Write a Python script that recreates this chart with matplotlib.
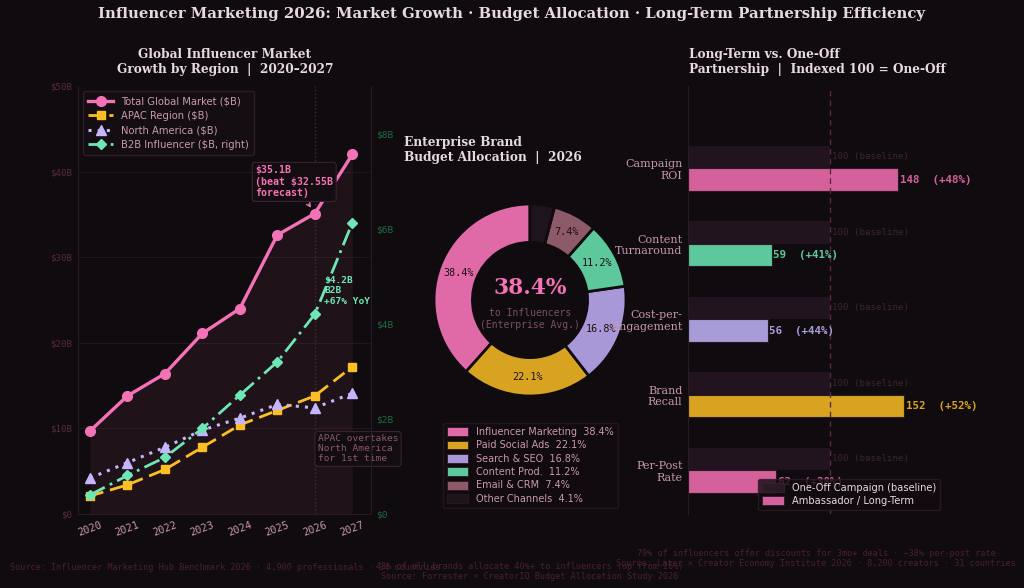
import matplotlib
matplotlib.use("Agg")
import matplotlib.pyplot as plt
import numpy as np
from matplotlib.patches import Patch

# ---------------- data ----------------
years = [2020, 2021, 2022, 2023, 2024, 2025, 2026, 2027]
total_market = [9.7, 13.8, 16.4, 21.1, 24.0, 32.6, 35.1, 42.0]
apac = [2.1, 3.4, 5.2, 7.8, 10.4, 12.1, 13.8, 17.2]
north_america = [4.2, 6.0, 7.8, 9.8, 11.2, 12.8, 12.4, 14.1]
b2b = [0.40, 0.81, 1.19, 1.80, 2.50, 3.20, 4.20, 6.12]

budget_labels = ["Influencer Marketing", "Paid Social Ads", "Search & SEO",
                 "Content Prod.", "Email & CRM", "Other Channels"]
budget_share = [38.4, 22.1, 16.8, 11.2, 7.4, 4.1]

metrics = ["Campaign\nROI", "Content\nTurnaround", "Cost-per-\nEngagement",
           "Brand\nRecall", "Per-Post\nRate"]
one_off = [100, 100, 100, 100, 100]
ambassador = [148, 59, 56, 152, 62]
improvement = ["+48%", "+41%", "+44%", "+52%", "+38%"]

# ---------------- style ----------------
BG = "#0f0b0e"
PINK = "#f472b6"
AMBER = "#fbbf24"
VIOLET = "#c4b5fd"
GREEN = "#6ee7b7"
TXT = "#e8d8e2"
MUTED = "#c898b0"
DIM = "#5a2a3c"

W, H = 1024, 588
fig = plt.figure(figsize=(10.24, 5.88), dpi=100, facecolor=BG)

def fx(px):
    return px / W

def fy(py):
    return 1 - py / H

MONO = "DejaVu Sans Mono"
SERIF = "DejaVu Serif"

fig.text(fx(511), fy(14), "Influencer Marketing 2026: Market Growth · Budget Allocation · Long-Term Partnership Efficiency",
         ha="center", va="center", fontsize=10.7, fontweight="bold", family=SERIF, color=TXT)

# ---------------- left: line chart ----------------
ax1 = fig.add_axes([fx(78), fy(514), fx(371) - fx(78), fy(86) - fy(514)])
ax1.set_facecolor(BG)
ax1.set_xlim(2019.68, 2027.5)
ax1.set_ylim(0, 50)
ax1.fill_between(years, 0, total_market, color=PINK, alpha=0.07, lw=0)
ax1.axvline(2026, color="#4a2838", ls=":", lw=1)
for g in [10, 20, 30, 40]:
    ax1.axhline(g, color="#22161d", lw=0.8, zorder=0)

l1, = ax1.plot(years, total_market, color=PINK, lw=2.4, marker="o", ms=7, label="Total Global Market ($B)", zorder=5)
l2, = ax1.plot(years, apac, color=AMBER, lw=2, ls=(0, (5, 2.5)), marker="s", ms=6, label="APAC Region ($B)", zorder=4)
l3, = ax1.plot(years, north_america, color=VIOLET, lw=2.2, ls=(0, (1, 2)), marker="^", ms=6.5, label="North America ($B)", zorder=4)

ax1b = ax1.twinx()
ax1b.set_ylim(0, 9)
l4, = ax1b.plot(years, b2b, color=GREEN, lw=2, ls=(0, (6, 2, 1, 2)), marker="D", ms=5.5, label="B2B Influencer ($B, right)", zorder=4)

ax1.set_yticks([0, 10, 20, 30, 40, 50])
ax1.set_yticklabels(["$0", "$10B", "$20B", "$30B", "$40B", "$50B"], family=MONO, fontsize=6.6, color=DIM)
ax1b.set_yticks([0, 2, 4, 6, 8])
ax1b.set_yticklabels(["$0", "$2B", "$4B", "$6B", "$8B"], family=MONO, fontsize=6.8, color="#1f6b45")
ax1.set_xticks(years)
ax1.set_xticklabels([str(y) for y in years], rotation=20, family=MONO, fontsize=7.5, color=MUTED)
for a in (ax1, ax1b):
    a.tick_params(length=0, pad=4)
    for s in a.spines.values():
        s.set_color("#2a1a24")
        s.set_linewidth(0.8)
ax1.spines["top"].set_visible(False)
ax1b.spines["top"].set_visible(False)

leg1 = ax1.legend(handles=[l1, l2, l3, l4], loc="upper left", fontsize=7.2, frameon=True,
                  facecolor="#140e13", edgecolor="#2e1c28", labelcolor=MUTED,
                  borderpad=0.5, handlelength=2.5, bbox_to_anchor=(0.0, 1.0), borderaxespad=0.5,
                  labelspacing=0.45)
leg1.get_frame().set_alpha(1)
leg1.set_zorder(10)

ax1.annotate("$35.1B\n(beat $32.55B\nforecast)", xy=(2026, 35.1), xytext=(2024.41, 38.8),
             fontsize=7.1, family=MONO, fontweight="bold", color=PINK, va="center", ha="left",
             bbox=dict(boxstyle="round,pad=0.3", fc="#130d12", ec="#3a2232", lw=0.8),
             arrowprops=dict(arrowstyle="->", color=PINK, lw=0.9, shrinkB=5), zorder=8)
ax1b.text(2026.25, 4.69, "$4.2B\nB2B\n+67% YoY", fontsize=6.8, family=MONO, fontweight="bold",
          color=GREEN, va="center", ha="left", zorder=8, linespacing=1.15)
ax1.text(2026.08, 7.6, "APAC overtakes\nNorth America\nfor 1st time", fontsize=6.8, family=MONO,
         color="#8a5870", va="center", ha="left", zorder=8, linespacing=1.15,
         bbox=dict(boxstyle="round,pad=0.3", fc="#130d12", ec="#3a2232", lw=0.8))

fig.text(fx(225), fy(62), "Global Influencer Market\nGrowth by Region  |  2020–2027", ha="center", va="center",
         fontsize=8.7, fontweight="bold", family=SERIF, color=TXT, linespacing=1.2)

# ---------------- middle: donut ----------------
pie_colors = ["#e06aa8", "#d8a321", "#a898d8", "#5cc89c", "#8c5a68", "#1e141c"]
ax2 = fig.add_axes([fx(410), fy(420), fx(240), fy(180) - fy(420)])
ax2.set_facecolor(BG)
wedges, _, autotexts = ax2.pie(budget_share, colors=pie_colors, startangle=90, counterclock=True,
                               wedgeprops=dict(width=0.4, edgecolor=BG, linewidth=2),
                               autopct=lambda p: f"{p:.1f}%" if p > 5 else "", pctdistance=0.8,
                               textprops=dict(family=MONO, fontsize=7.3, color="#1a1015"))
ax2.set_aspect("equal")
ax2.text(0, 0.12, f"{budget_share[0]}%", ha="center", va="center", fontsize=15.7, fontweight="bold",
         family=SERIF, color=PINK)
ax2.text(0, -0.2, "to Influencers\n(Enterprise Avg.)", ha="center", va="center", fontsize=7,
         family=MONO, color="#7a5068", linespacing=1.2)

fig.text(fx(404), fy(150), "Enterprise Brand\nBudget Allocation  |  2026", ha="left", va="center",
         fontsize=8.7, fontweight="bold", family=SERIF, color=TXT, linespacing=1.2)

pie_handles = [Patch(facecolor=c, edgecolor="#2a1a24", lw=0.6) for c in pie_colors]
leg2 = fig.legend(pie_handles, [f"{l}  {v}%" for l, v in zip(budget_labels, budget_share)],
                  loc="upper left", bbox_to_anchor=(fx(443), fy(423)), bbox_transform=fig.transFigure,
                  fontsize=7, frameon=True, facecolor="#120c11", edgecolor="#2a1a24", labelcolor=MUTED,
                  borderaxespad=0, handlelength=2.2, handleheight=1.0, labelspacing=0.35)

# ---------------- right: bars ----------------
ax3 = fig.add_axes([fx(688), fy(514), fx(944) - fx(688), fy(86) - fy(514)])
ax3.set_facecolor(BG)
bar_colors = ["#d4609c", "#5cc89c", "#a89cd8", "#d8a321", "#d4609c"]
ypos = np.arange(len(metrics))
bh = 0.3
b1 = ax3.barh(ypos - bh / 2, one_off, height=bh, color="#21141e", edgecolor="none")
b2 = ax3.barh(ypos + bh / 2, ambassador, height=bh, color=bar_colors, edgecolor="#2a1a24", lw=0.8)
ax3.set_xlim(0, 180)
ax3.set_ylim(4.58, -1.09)
ax3.axvline(100, color="#5a2a3c", ls=(0, (4, 3)), lw=1)
for i in range(len(metrics)):
    ax3.text(one_off[i] + 1, ypos[i] - bh / 2, f"{one_off[i]} (baseline)", va="center", ha="left",
             fontsize=6.6, family=MONO, color="#3e2532", clip_on=False)
    ax3.text(ambassador[i] + 1, ypos[i] + bh / 2, f"{ambassador[i]}  ({improvement[i]})", va="center",
             ha="left", fontsize=7.8, family=MONO, fontweight="bold", color=bar_colors[i], clip_on=False)
ax3.set_yticks(ypos)
ax3.set_yticklabels(metrics, family=SERIF, fontsize=8, color=MUTED)
ax3.set_xticks([])
ax3.tick_params(length=0, pad=4)
for k, s in ax3.spines.items():
    s.set_visible(k == "left")
ax3.spines["left"].set_color("#2a1a24")
bar_handles = [Patch(facecolor="#2a1a26", edgecolor="#3a2232", lw=0.6),
               Patch(facecolor="#d4609c", edgecolor="#2a1a24", lw=0.6)]
leg3 = ax3.legend(bar_handles, ["One-Off Campaign (baseline)", "Ambassador / Long-Term"],
                  loc="lower right", fontsize=7.1, frameon=True, facecolor="#120c11", edgecolor="#2e1c28",
                  labelcolor=TXT, borderaxespad=0.4, handlelength=2.2, handleheight=1.0, labelspacing=0.3)
leg3.set_zorder(10)

fig.text(fx(689), fy(62), "Long-Term vs. One-Off\nPartnership  |  Indexed 100 = One-Off", ha="left", va="center",
         fontsize=8.7, fontweight="bold", family=SERIF, color=TXT, linespacing=1.2)

# ---------------- footers ----------------
FOOT = "#4a2030"
fig.text(fx(225), fy(568), "Source: Influencer Marketing Hub Benchmark 2026 · 4,900 professionals · 34 countries",
         ha="center", va="center", fontsize=6.1, family=MONO, color=FOOT)
fig.text(fx(530), fy(571.5), "43% of all brands allocate 40%+ to influencers (up from 26%)\nSource: Forrester × CreatorIQ Budget Allocation Study 2026",
         ha="center", va="center", fontsize=6.1, family=MONO, color=FOOT, linespacing=1.1)
fig.text(fx(816), fy(558.5), "79% of influencers offer discounts for 3mo+ deals · −38% per-post rate\nSource: Later × Creator Economy Institute 2026 · 8,200 creators · 31 countries",
         ha="center", va="center", fontsize=6.1, family=MONO, color=FOOT, linespacing=1.1)

fig.savefig("out.png", dpi=100, facecolor=BG)
